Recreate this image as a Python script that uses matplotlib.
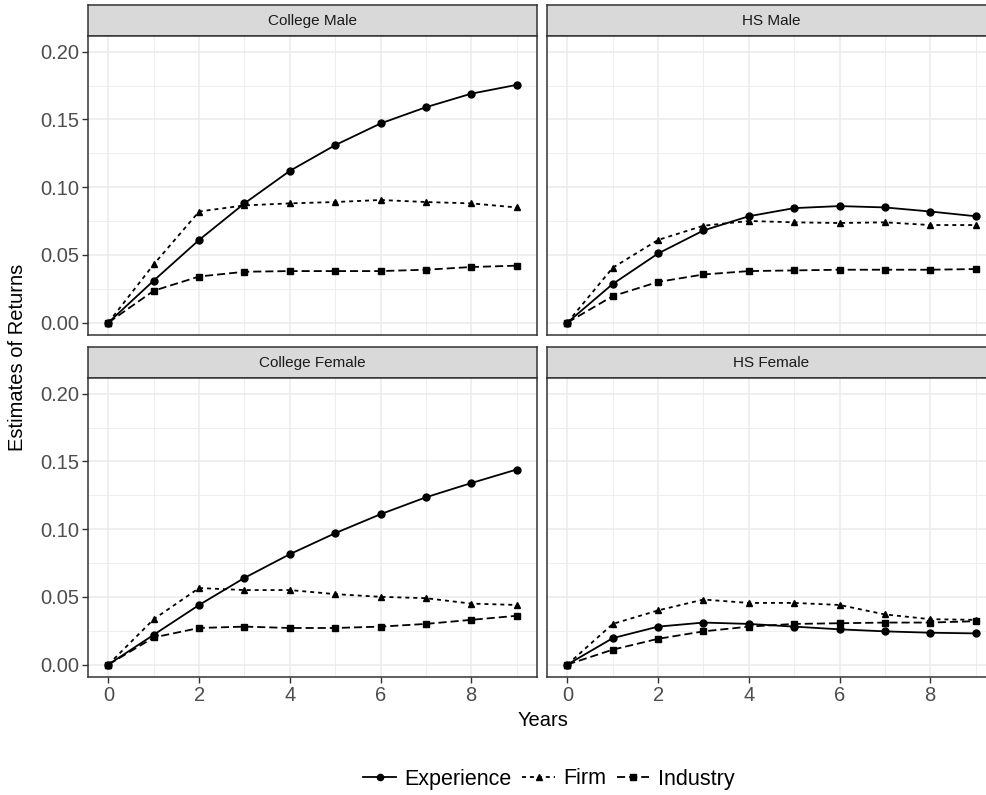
import matplotlib
matplotlib.use("Agg")
import matplotlib.pyplot as plt
from matplotlib.lines import Line2D

plt.rcParams['font.family'] = ['Liberation Sans', 'DejaVu Sans']

# data
years = [0, 1, 2, 3, 4, 5, 6, 7, 8, 9]
panels = ['College Male', 'HS Male', 'College Female', 'HS Female']
series = ['Experience', 'Firm', 'Industry']

college_male_exp = [0, 0.031, 0.061, 0.088, 0.112, 0.131, 0.147, 0.159, 0.169, 0.1755]
college_male_firm = [0, 0.043, 0.082, 0.0865, 0.088, 0.089, 0.0905, 0.089, 0.088, 0.085]
college_male_ind = [0, 0.0235, 0.034, 0.0375, 0.038, 0.038, 0.038, 0.039, 0.041, 0.042]

hs_male_exp = [0, 0.0285, 0.051, 0.068, 0.0785, 0.0845, 0.086, 0.085, 0.082, 0.0785]
hs_male_firm = [0, 0.0405, 0.061, 0.0715, 0.075, 0.074, 0.0735, 0.074, 0.072, 0.072]
hs_male_ind = [0, 0.0195, 0.030, 0.0355, 0.038, 0.0385, 0.039, 0.039, 0.039, 0.0395]

college_female_exp = [0, 0.022, 0.044, 0.064, 0.0815, 0.097, 0.111, 0.1235, 0.134, 0.144]
college_female_firm = [0, 0.0335, 0.0565, 0.055, 0.055, 0.052, 0.050, 0.049, 0.045, 0.044]
college_female_ind = [0, 0.020, 0.027, 0.028, 0.027, 0.027, 0.028, 0.030, 0.033, 0.036]

hs_female_exp = [0, 0.0195, 0.028, 0.031, 0.030, 0.028, 0.026, 0.0245, 0.0235, 0.023]
hs_female_firm = [0, 0.030, 0.040, 0.048, 0.0455, 0.0455, 0.044, 0.037, 0.0335, 0.033]
hs_female_ind = [0, 0.011, 0.019, 0.0245, 0.028, 0.030, 0.0305, 0.031, 0.031, 0.032]

panel_data = {
    'College Male': [college_male_exp, college_male_firm, college_male_ind],
    'HS Male': [hs_male_exp, hs_male_firm, hs_male_ind],
    'College Female': [college_female_exp, college_female_firm, college_female_ind],
    'HS Female': [hs_female_exp, hs_female_firm, hs_female_ind],
}

# styles (ggplot-like)
styles = {
    'Experience': dict(linestyle='-', marker='o'),
    'Firm': dict(linestyle=(0, (2.2, 2.2)), marker='^'),
    'Industry': dict(linestyle=(0, (4.5, 2.2)), marker='s'),
}

W, H = 986, 795
fig = plt.figure(figsize=(W / 100, H / 100), dpi=100)

grid_col = '#EBEBEB'
border_col = '#333333'
tick_col = '#4D4D4D'


def box(x0, y0, x1, y1):
    return [x0 / W, 1 - y1 / H, (x1 - x0) / W, (y1 - y0) / H]


# pixel layout: (panel left, right), (strip top, panel top, panel bottom)
cols = [(88, 537), (547, 996)]
rows = [(5, 36, 335), (347, 378, 677)]

for i, name in enumerate(panels):
    r, c = divmod(i, 2)
    x0, x1 = cols[c]
    st, pt, pb = rows[r]

    # strip
    sax = fig.add_axes(box(x0, st, x1, pt))
    sax.set_facecolor('#D9D9D9')
    sax.set_xticks([])
    sax.set_yticks([])
    for sp in sax.spines.values():
        sp.set_color(border_col)
        sp.set_linewidth(1.1)
    sax.text(0.5, 0.47, name, transform=sax.transAxes, ha='center',
             va='center', fontsize=11, color='#1A1A1A')

    ax = fig.add_axes(box(x0, pt, x1, pb))
    ax.set_xlim(-0.45, 9.45)
    ax.set_ylim(-0.0092, 0.2116)
    ax.set_xticks([0, 2, 4, 6, 8])
    ax.set_xticks([1, 3, 5, 7, 9], minor=True)
    ax.set_yticks([0, 0.05, 0.10, 0.15, 0.20])
    ax.set_yticks([0.025, 0.075, 0.125, 0.175], minor=True)
    ax.grid(True, which='major', color=grid_col, linewidth=1.1)
    ax.grid(True, which='minor', color=grid_col, linewidth=0.6)
    ax.set_axisbelow(True)
    for sp in ax.spines.values():
        sp.set_color(border_col)
        sp.set_linewidth(1.1)
    ax.tick_params(which='minor', length=0)
    ax.tick_params(which='major', length=4, width=1, color=border_col,
                   labelsize=14.5, labelcolor=tick_col, pad=2.5)
    if c == 0:
        ax.set_yticklabels(['0.00', '0.05', '0.10', '0.15', '0.20'])
    else:
        ax.tick_params(axis='y', length=0, labelleft=False)
    if r == 0:
        ax.tick_params(axis='x', length=0, labelbottom=False)

    for s, vals in zip(series, panel_data[name]):
        st_ = styles[s]
        ax.plot(years, vals, color='black', linewidth=1.3,
                linestyle=st_['linestyle'], marker=st_['marker'],
                markersize=5, label=s, clip_on=(c == 1))

fig.text(18 / W, 1 - 357 / H, 'Estimates of Returns', rotation=90,
         ha='center', va='center', fontsize=14.5)
fig.text(543 / W, 1 - 720 / H, 'Years', ha='center', va='center',
         fontsize=14.5)

handles = [Line2D([], [], color='black', linewidth=1.3,
                  linestyle=styles[s]['linestyle'], marker=styles[s]['marker'],
                  markersize=4.5) for s in series]
fig.legend(handles, series, loc='center', bbox_to_anchor=(549 / W, 1 - 779 / H),
           ncol=3, frameon=False, fontsize=15.5, handlelength=1.5,
           handletextpad=0.4, columnspacing=0.5)

fig.savefig('out.png', dpi=100)
